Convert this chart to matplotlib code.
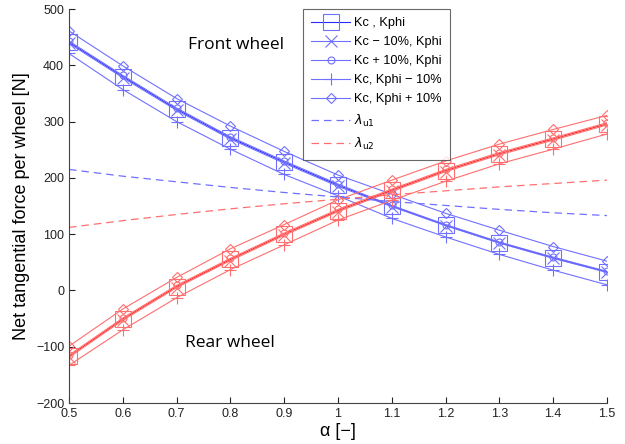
import matplotlib
matplotlib.use("Agg")
import matplotlib.pyplot as plt
import numpy as np

alpha = [0.5, 0.6, 0.7, 0.8, 0.9, 1.0, 1.1, 1.2, 1.3, 1.4, 1.5]

# Front wheel (blue)
front_base = [441, 380, 322, 271, 228, 187, 150, 116, 85, 58, 33]
front_kc_m10 = [439, 378, 320, 269, 226, 185, 149, 115, 84, 57, 32]
front_kc_p10 = [443, 382, 324, 273, 230, 189, 151, 117, 86, 59, 34]
front_kphi_m10 = [421, 357, 300, 251, 206, 168, 128, 95, 64, 36, 10]
front_kphi_p10 = [461, 399, 341, 292, 247, 205, 171, 137, 107, 78, 52]

# Rear wheel (red)
rear_base = [-117, -51, 7, 55, 100, 142, 178, 213, 243, 269, 296]
rear_kc_m10 = [-119, -53, 5, 53, 98, 140, 176, 211, 241, 267, 294]
rear_kc_p10 = [-115, -49, 9, 57, 102, 144, 180, 215, 245, 271, 298]
rear_kphi_m10 = [-133, -70, -13, 37, 81, 125, 160, 194, 225, 251, 278]
rear_kphi_p10 = [-99, -33, 23, 74, 117, 161, 196, 230, 260, 286, 311]

# lambda curves
lambda_u1 = [215, 203, 193, 183, 174, 166, 158, 151, 144, 138, 133]
lambda_u2 = [112, 124, 135, 145, 154, 162, 170, 177, 184, 190, 196]

legend_labels = ["Kc , Kphi", "Kc \u2212 10%, Kphi", "Kc + 10%, Kphi",
                 "Kc, Kphi \u2212 10%", "Kc, Kphi + 10%",
                 r"$\lambda_{\rm u1}$", r"$\lambda_{\rm u2}$"]

xticks = [0.5, 0.6, 0.7, 0.8, 0.9, 1.0, 1.1, 1.2, 1.3, 1.4, 1.5]
xticklabels = ["0.5", "0.6", "0.7", "0.8", "0.9", "1", "1.1", "1.2", "1.3", "1.4", "1.5"]
yticks = [-200, -100, 0, 100, 200, 300, 400, 500]

plt.rcParams['font.family'] = ['Liberation Sans', 'DejaVu Sans']

fig = plt.figure(figsize=(6.25, 4.44), dpi=100)
ax = fig.add_axes([0.1104, 0.0923, 0.8608, 0.8874])

blue_d = '#2a2aff'
blue_l = '#7070ff'
red_d = '#ff2020'
red_l = '#ff6f6f'

styles = [
    dict(marker='s', ms=11, mfc='none'),
    dict(marker='x', ms=9),
    dict(marker='o', ms=5, mfc='none'),
    dict(marker='+', ms=9),
    dict(marker='D', ms=5, mfc='none'),
]

fronts = [front_base, front_kc_m10, front_kc_p10, front_kphi_m10, front_kphi_p10]
rears = [rear_base, rear_kc_m10, rear_kc_p10, rear_kphi_m10, rear_kphi_p10]

handles = []
for i, (f, st) in enumerate(zip(fronts, styles)):
    c = blue_d if i == 0 else blue_l
    h, = ax.plot(alpha, f, color=c, mec=blue_l, lw=0.8, mew=0.8, **st)
    handles.append(h)
for i, (r, st) in enumerate(zip(rears, styles)):
    c = red_d if i == 0 else red_l
    ax.plot(alpha, r, color=c, mec=red_l, lw=0.8, mew=0.8, **st)

h1, = ax.plot(alpha, lambda_u1, color=blue_l, lw=0.9, ls=(0, (6, 4)))
h2, = ax.plot(alpha, lambda_u2, color=red_l, lw=0.9, ls=(0, (6, 4)))
handles += [h1, h2]

ax.set_xlim(0.5, 1.5)
ax.set_ylim(-200, 500)
ax.set_xticks(xticks)
ax.set_xticklabels(xticklabels)
ax.set_yticks(yticks)
ax.tick_params(direction='in', length=4, width=0.8, labelsize=9, colors='#222222')
for s in ['top', 'right']:
    ax.spines[s].set_visible(False)
for s in ['left', 'bottom']:
    ax.spines[s].set_color('#444444')
    ax.spines[s].set_linewidth(0.8)

ax.set_xlabel("\u03b1 [\u2212]", fontsize=13, labelpad=2)
ax.set_ylabel("Net tangential force per wheel [N]", fontsize=13, labelpad=4)

ax.text(0.81, 436, "Front wheel", fontsize=12.5, ha='center', va='center',
        family=['Open Sans', 'DejaVu Sans'])
ax.text(0.80, -93, "Rear wheel", fontsize=12.5, ha='center', va='center',
        family=['Open Sans', 'DejaVu Sans'])

leg = ax.legend(handles, legend_labels, loc='upper left', bbox_to_anchor=(0.435, 1.0),
                fontsize=9.2, frameon=True, fancybox=False, handlelength=3.0,
                borderpad=0.65, labelspacing=0.55, handletextpad=0.35,
                borderaxespad=0.0)
leg.get_frame().set_edgecolor('#444444')
leg.get_frame().set_linewidth(0.8)

fig.savefig("out.png", dpi=100)
